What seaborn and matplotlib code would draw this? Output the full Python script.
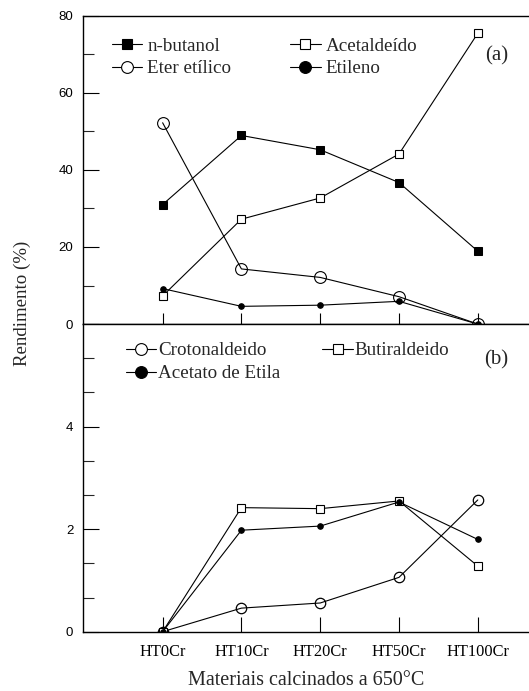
import matplotlib
matplotlib.use('Agg')
import matplotlib.pyplot as plt
from matplotlib.lines import Line2D
from matplotlib.ticker import FixedLocator
import seaborn as sns
import pandas as pd

# categories and yields (%)
materials = ['HT0Cr', 'HT10Cr', 'HT20Cr', 'HT50Cr', 'HT100Cr']

butanol = [31.0, 48.9, 45.2, 36.7, 18.9]
acetaldeido = [7.3, 27.2, 32.7, 44.1, 75.4]
eter = [52.2, 14.3, 12.1, 7.1, 0.0]
etileno = [9.2, 4.6, 4.9, 5.9, 0.0]

crotonaldeido = [0.0, 0.46, 0.56, 1.06, 2.57]
butiraldeido = [0.0, 2.42, 2.40, 2.55, 1.28]
acetato = [0.0, 1.98, 2.06, 2.53, 1.80]

sns.set_theme(style='ticks')
plt.rcParams['font.family'] = ['Liberation Serif', 'DejaVu Serif']

serif = 'Liberation Serif'
sans = 'Liberation Sans'

fig = plt.figure(figsize=(5.29, 6.91), dpi=100)
ax_a = fig.add_axes([0.157, 0.531, 0.843, 0.4465])
ax_b = fig.add_axes([0.157, 0.0858, 0.843, 0.4452])

top_df = pd.DataFrame({'material': materials, 'n-butanol': butanol,
                       'Acetaldeído': acetaldeido, 'Eter etílico': eter,
                       'Etileno': etileno})
bot_df = pd.DataFrame({'material': materials, 'Crotonaldeido': crotonaldeido,
                       'Butiraldeido': butiraldeido, 'Acetato de Etila': acetato})

lw = 0.8
# (a)
sns.lineplot(data=top_df, x='material', y='n-butanol', ax=ax_a, sort=False, color='black',
             lw=lw, marker='s', markersize=5.5, markerfacecolor='black', markeredgecolor='black')
sns.lineplot(data=top_df, x='material', y='Acetaldeído', ax=ax_a, sort=False, color='black',
             lw=lw, marker='s', markersize=5.5, markerfacecolor='white', markeredgecolor='black',
             markeredgewidth=0.8)
sns.lineplot(data=top_df, x='material', y='Eter etílico', ax=ax_a, sort=False, color='black',
             lw=lw, marker='o', markersize=8.5, markerfacecolor='none', markeredgecolor='black',
             markeredgewidth=0.8)
sns.lineplot(data=top_df, x='material', y='Etileno', ax=ax_a, sort=False, color='black',
             lw=lw, marker='o', markersize=4, markerfacecolor='black', markeredgecolor='black')

# (b)
sns.lineplot(data=bot_df, x='material', y='Crotonaldeido', ax=ax_b, sort=False, color='black',
             lw=lw, marker='o', markersize=7.5, markerfacecolor='none', markeredgecolor='black',
             markeredgewidth=0.9)
sns.lineplot(data=bot_df, x='material', y='Butiraldeido', ax=ax_b, sort=False, color='black',
             lw=lw, marker='s', markersize=5.5, markerfacecolor='white', markeredgecolor='black',
             markeredgewidth=0.8)
sns.lineplot(data=bot_df, x='material', y='Acetato de Etila', ax=ax_b, sort=False, color='black',
             lw=lw, marker='o', markersize=4, markerfacecolor='black', markeredgecolor='black')

for ax in (ax_a, ax_b):
    ax.set_xlim(-1.01, 4.65)
    ax.spines['right'].set_visible(False)
    for s in ('left', 'top', 'bottom'):
        ax.spines[s].set_linewidth(1.0)
        ax.spines[s].set_color('black')
    ax.tick_params(axis='y', which='major', direction='in', length=11.5, width=0.8,
                   pad=7, labelsize=9.5, colors='black')
    ax.tick_params(axis='y', which='minor', direction='in', length=7.7, width=0.8)
    ax.tick_params(axis='x', which='major', direction='in', width=0.8, colors='black')
    ax.set_ylabel('')
    ax.set_facecolor('white')

ax_a.set_ylim(0, 80)
ax_a.yaxis.set_major_locator(FixedLocator([0, 20, 40, 60, 80]))
ax_a.yaxis.set_minor_locator(FixedLocator([10, 30, 50, 70]))
ax_a.tick_params(axis='x', labelbottom=False, length=8)
ax_a.set_xlabel('')
for t in ax_a.get_yticklabels():
    t.set_fontfamily(sans)

ax_b.set_ylim(0, 6)
ax_b.yaxis.set_major_locator(FixedLocator([0, 2, 4]))
ax_b.yaxis.set_minor_locator(FixedLocator([2/3, 4/3, 8/3, 10/3, 14/3, 16/3]))
ax_b.tick_params(axis='x', labelsize=11.8, pad=9, length=11)
for t in ax_b.get_yticklabels():
    t.set_fontfamily(sans)
for t in ax_b.get_xticklabels():
    t.set_fontfamily(serif)
ax_b.set_xlabel('Materiais calcinados a 650°C', fontsize=14.5, family=serif, labelpad=8)

fig.text(0.042, 0.5615, 'Rendimento (%)', rotation=90, va='center', ha='center',
         fontsize=13.6, family=serif)

def handle(marker, ms, fc):
    return Line2D([], [], color='black', lw=lw, marker=marker, markersize=ms,
                  markerfacecolor=fc, markeredgecolor='black', markeredgewidth=0.8)

leg_a = ax_a.legend([handle('s', 7.5, 'black'), handle('o', 8.5, 'white'),
                     handle('s', 7.5, 'white'), handle('o', 8.5, 'black')],
                    ['n-butanol', 'Eter etílico', 'Acetaldeído', 'Etileno'],
                    ncol=2, loc='upper left', bbox_to_anchor=(0.065, 0.929), frameon=False,
                    borderpad=0, borderaxespad=0,
                    handlelength=1.6, handletextpad=0.25, labelspacing=0.27,
                    columnspacing=3.1, prop={'family': serif, 'size': 13.7})

leg_b = ax_b.legend([handle('o', 8.5, 'white'), handle('o', 8.5, 'black'), handle('s', 7.5, 'white')],
                    ['Crotonaldeido', 'Acetato de Etila', 'Butiraldeido'],
                    ncol=2, loc='upper left', bbox_to_anchor=(0.096, 0.942), frameon=False,
                    borderpad=0, borderaxespad=0,
                    handlelength=1.6, handletextpad=0.1, labelspacing=0.3,
                    columnspacing=2.2, prop={'family': serif, 'size': 13.7})

ax_a.text(0.927, 0.868, '(a)', transform=ax_a.transAxes, fontsize=15, family=serif,
          ha='center', va='center')
ax_b.text(0.927, 0.885, '(b)', transform=ax_b.transAxes, fontsize=15, family=serif,
          ha='center', va='center')

fig.savefig('out.png', dpi=100, facecolor='white')
